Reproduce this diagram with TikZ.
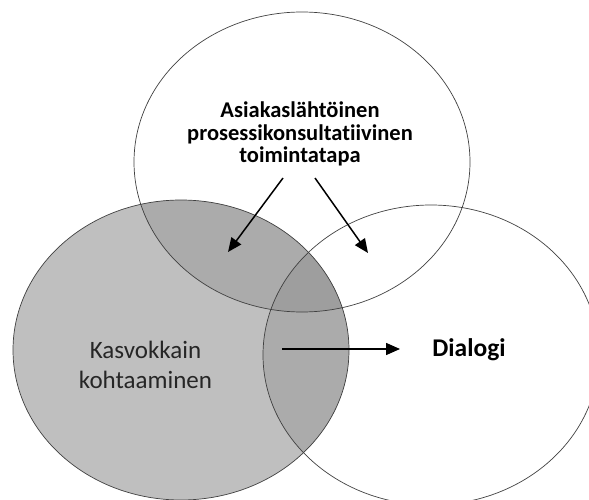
\documentclass[tikz,border=0pt]{standalone}
\usepackage{fontspec}
\setmainfont{Carlito}[Ligatures=NoCommon]
\usepackage{tikz}
\usetikzlibrary{arrows.meta}

\definecolor{lightgr}{RGB}{191,191,191}
\definecolor{midgr}{RGB}{171,171,171}
\definecolor{darkgr}{RGB}{158,158,158}

\begin{document}
\begin{tikzpicture}[x=1pt,y=1pt,
  rim/.style={draw=black!75,line width=0.7pt},
  pointer/.style={line width=1.5pt,-{Triangle[length=14pt,width=12pt]}},
  lbl/.style={inner sep=0pt,align=center}]
\useasboundingbox (0,0) rectangle (589,499);

\fill[lightgr] (181,149) ellipse (168pt and 150pt) ;

\begin{scope}
\clip (181,149) ellipse (168pt and 150pt) ;
\fill[midgr] (302,337) ellipse (168pt and 150pt) ;
\fill[midgr] (431,144) ellipse (168pt and 150pt) ;
\clip (302,337) ellipse (168pt and 150pt) ;
\fill[darkgr] (431,144) ellipse (168pt and 150pt) ;
\end{scope}

\draw[rim] (302,337) ellipse (168pt and 150pt) ;
\draw[rim] (431,144) ellipse (168pt and 150pt) ;
\draw[rim] (181,149) ellipse (168pt and 150pt) ;

\node[lbl,font=\fontsize{22.5}{22.5}\selectfont\bfseries] (asiakas) at (300,365)
  {Asiakaslähtöinen\\prosessikonsultatiivinen\\toimintatapa} ;
\node[lbl,font=\fontsize{25}{30}\selectfont,text=black!85] (kasvokkain) at (145.5,134.5)
  {Kasvokkain\\kohtaaminen} ;
\node[lbl,font=\fontsize{25.5}{28}\selectfont\bfseries] (dialogi) at (469,149) {Dialogi} ;

\coordinate (a1) at (283,321) ;
\coordinate (b1) at (228,247) ;
\coordinate (a2) at (315,321) ;
\coordinate (b2) at (368,246) ;
\coordinate (a3) at (282,150) ;
\coordinate (b3) at (400,150) ;

\draw[pointer] (a1) -- (b1) ;
\draw[pointer] (a2) -- (b2) ;
\draw[pointer] (a3) -- (b3) ;

\end{tikzpicture}
\end{document}
